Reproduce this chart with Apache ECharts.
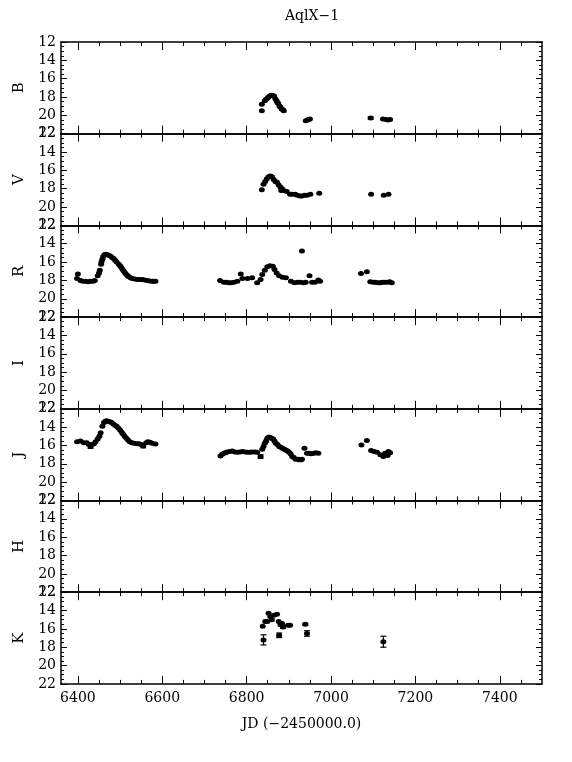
<!DOCTYPE html>
<html><head><meta charset="utf-8">
<script src="https://cdn.jsdelivr.net/npm/echarts@6/dist/echarts.min.js"></script>
<style>html,body{margin:0;padding:0;background:#fff}#c{width:572px;height:762px}</style>
</head><body><div id="c"></div>
<script>
const chartTitle = 'AqlX\u22121';
const xTitle = 'JD (\u22122450000.0)';
const bands = ['B', 'V', 'R', 'I', 'J', 'H', 'K'];
const xMajorTicks = [6400, 6600, 6800, 7000, 7200, 7400];
const xMinorTicks = [6400, 6450, 6500, 6550, 6600, 6650, 6700, 6750, 6800, 6850, 6900, 6950, 7000, 7050, 7100, 7150, 7200, 7250, 7300, 7350, 7400, 7450];
const yTickLabels = [12, 14, 16, 18, 20, 22];

const B_jd  = [6836, 6836, 6843, 6846, 6850, 6852, 6855, 6858, 6862, 6865, 6868, 6871, 6873, 6875, 6878, 6880, 6883, 6886, 6888, 6940, 6944, 6947, 6950, 7094, 7123, 7130, 7135, 7140];
const B_mag = [19.5, 18.8, 18.4, 18.25, 18.1, 18.0, 17.9, 17.8, 17.85, 17.9, 18.2, 18.4, 18.6, 18.7, 19.0, 19.1, 19.3, 19.4, 19.5, 20.6, 20.5, 20.45, 20.4, 20.3, 20.4, 20.45, 20.5, 20.45];
const B_err = [0, 0, 0, 0, 0, 0, 0, 0, 0, 0, 0, 0, 0, 0, 0, 0, 0, 0, 0, 0, 0, 0, 0, 0.12, 0, 0, 0, 0];

const V_jd  = [6836, 6840, 6844, 6848, 6852, 6856, 6860, 6864, 6868, 6872, 6876, 6880, 6882, 6884, 6888, 6895, 6903, 6908, 6915, 6920, 6926, 6931, 6937, 6943, 6951, 6972, 7095, 7125, 7136];
const V_mag = [18.1, 17.5, 17.2, 16.9, 16.7, 16.6, 16.7, 17.0, 17.2, 17.3, 17.6, 17.8, 18.2, 18.0, 18.2, 18.3, 18.6, 18.6, 18.6, 18.7, 18.8, 18.8, 18.7, 18.7, 18.6, 18.5, 18.6, 18.7, 18.6];

const R_jd  = [6398, 6400, 6406, 6412, 6418, 6424, 6430, 6436, 6440, 6447, 6450, 6452, 6455, 6456, 6458, 6460, 6463, 6466, 6470, 6473, 6477, 6481, 6485, 6488, 6492, 6497, 6500, 6503, 6506, 6509, 6512, 6515, 6518, 6521, 6525, 6529, 6535, 6541, 6547, 6553, 6558, 6564, 6570, 6576, 6580, 6584,
               6737, 6746, 6752, 6758, 6764, 6770, 6778, 6786, 6790, 6802, 6813, 6825, 6833, 6837, 6843, 6849, 6855, 6862, 6866, 6871, 6877, 6885, 6893, 6905, 6913, 6920, 6927, 6931, 6935, 6940, 6949, 6955, 6962, 6970, 6974,
               7071, 7085, 7093, 7100, 7105, 7112, 7117, 7122, 7128, 7134, 7139, 7144];
const R_mag = [17.8, 17.3, 18.0, 18.1, 18.1, 18.15, 18.1, 18.1, 18.0, 17.5, 17.2, 16.9, 16.25, 16.0, 15.7, 15.4, 15.2, 15.15, 15.2, 15.25, 15.35, 15.5, 15.6, 15.8, 16.0, 16.25, 16.4, 16.6, 16.8, 17.0, 17.2, 17.35, 17.5, 17.6, 17.7, 17.8, 17.85, 17.9, 17.9, 17.9, 17.95, 18.0, 18.05, 18.1, 18.1, 18.1,
               18.0, 18.2, 18.2, 18.25, 18.25, 18.2, 18.1, 17.3, 17.8, 17.8, 17.7, 18.25, 17.9, 17.35, 16.9, 16.5, 16.4, 16.45, 16.8, 17.2, 17.5, 17.65, 17.7, 18.1, 18.25, 18.2, 18.2, 14.8, 18.25, 18.2, 17.5, 18.2, 18.2, 17.95, 18.1,
               17.25, 17.05, 18.15, 18.2, 18.2, 18.25, 18.25, 18.2, 18.2, 18.2, 18.15, 18.25];

const I_jd  = [];
const I_mag = [];

const J_jd  = [6398, 6406, 6414, 6421, 6426, 6430, 6434, 6438, 6442, 6447, 6451, 6454, 6458, 6462, 6465, 6468, 6472, 6476, 6480, 6484, 6488, 6492, 6496, 6500, 6504, 6507, 6511, 6515, 6519, 6523, 6528, 6533, 6540, 6545, 6550, 6555, 6562, 6566, 6571, 6576, 6584,
               6738, 6742, 6746, 6750, 6754, 6760, 6766, 6772, 6778, 6784, 6790, 6796, 6802, 6808, 6813, 6820, 6825, 6833, 6837, 6840, 6843, 6846, 6849, 6852, 6855, 6859, 6863, 6866, 6869, 6873, 6877, 6881, 6885, 6889, 6893, 6897, 6900, 6904, 6908, 6912, 6916, 6922, 6927, 6931, 6937, 6943, 6948, 6953, 6959, 6964, 6970,
               7072, 7085, 7095, 7102, 7109, 7117, 7124, 7128, 7132, 7134, 7136, 7140];
const J_mag = [15.6, 15.5, 15.7, 15.7, 15.9, 16.1, 15.9, 15.8, 15.6, 15.3, 15.0, 14.6, 13.9, 13.5, 13.35, 13.3, 13.35, 13.4, 13.5, 13.65, 13.8, 13.9, 14.1, 14.3, 14.55, 14.75, 15.0, 15.2, 15.4, 15.6, 15.7, 15.75, 15.8, 15.8, 15.9, 16.05, 15.7, 15.6, 15.65, 15.75, 15.85,
               17.15, 16.95, 16.85, 16.8, 16.7, 16.65, 16.6, 16.7, 16.75, 16.7, 16.65, 16.7, 16.75, 16.75, 16.7, 16.7, 16.75, 17.2, 16.4, 16.1, 15.75, 15.5, 15.2, 15.1, 15.1, 15.2, 15.3, 15.5, 15.75, 15.9, 16.1, 16.2, 16.3, 16.4, 16.5, 16.6, 16.7, 16.9, 17.2, 17.3, 17.5, 17.5, 17.55, 17.5, 16.3, 16.85, 16.85, 16.9, 16.85, 16.8, 16.85,
               15.95, 15.45, 16.55, 16.65, 16.75, 17.0, 17.2, 16.85, 16.9, 17.1, 16.65, 16.8];
const J_err = [0, 0, 0, 0, 0, 0.2, 0, 0, 0, 0, 0, 0, 0, 0, 0, 0, 0, 0, 0, 0, 0, 0, 0, 0, 0, 0, 0, 0, 0, 0, 0, 0, 0, 0, 0, 0.2, 0, 0, 0, 0, 0,
               0, 0, 0, 0, 0, 0, 0, 0, 0, 0, 0, 0, 0, 0, 0, 0, 0, 0.2, 0, 0, 0, 0, 0, 0, 0, 0, 0, 0, 0, 0, 0, 0, 0, 0, 0, 0, 0, 0, 0, 0, 0, 0, 0.2, 0, 0, 0, 0, 0, 0, 0, 0,
               0, 0, 0, 0, 0, 0, 0, 0, 0, 0, 0, 0];

const H_jd  = [];
const H_mag = [];

const K_jd  = [6838, 6840, 6844, 6849, 6852, 6856, 6860, 6865, 6872, 6876, 6877, 6880, 6884, 6886, 6898, 6903, 6939, 6943, 7124];
const K_mag = [15.7, 17.2, 15.2, 15.2, 14.3, 14.65, 15.0, 14.5, 14.4, 15.2, 16.7, 15.55, 15.4, 15.8, 15.6, 15.6, 15.5, 16.5, 17.4];
const K_err = [0, 0.55, 0, 0, 0, 0, 0, 0, 0, 0, 0.25, 0, 0, 0.15, 0, 0, 0.12, 0.3, 0.6];

const bandData = {
  B: [B_jd, B_mag, B_err], V: [V_jd, V_mag, null], R: [R_jd, R_mag, null], I: [I_jd, I_mag, null],
  J: [J_jd, J_mag, J_err], H: [H_jd, H_mag, null], K: [K_jd, K_mag, K_err]
};

const FONT = 'DejaVu Serif';
const PLOT_TOP = 42, PANEL_H = 91.7, LEFT = 61, RIGHT = 30;
const XMIN = 6360, XMAX = 7500;

const grids = [], xAxes = [], yAxes = [], series = [];
const axisLineStyle = { color: '#000', width: 1.5 };
const tickStyle = { color: '#000', width: 1 };

bands.forEach((b, i) => {
  const last = i === bands.length - 1;
  grids.push({ left: LEFT, right: RIGHT, top: PLOT_TOP + i * PANEL_H, height: PANEL_H, containLabel: false, outerBoundsMode: 'none' });
  const baseX = { type: 'value', gridIndex: i, min: XMIN, max: XMAX, splitLine: { show: false } };
  xAxes.push(Object.assign({}, baseX, {
    position: 'bottom',
    axisLine: { show: true, onZero: false, lineStyle: axisLineStyle },
    axisTick: { show: true, inside: true, length: 8, lineStyle: tickStyle, customValues: xMajorTicks },
    axisLabel: { show: last, customValues: xMajorTicks, fontFamily: FONT, fontSize: 14, color: '#000', margin: 7,
      formatter: v => String(v) },
    name: last ? xTitle : '', nameLocation: 'middle', nameGap: 33,
    nameTextStyle: { fontFamily: FONT, fontSize: 14, color: '#000' }
  }));
  xAxes.push(Object.assign({}, baseX, {
    position: 'bottom',
    axisLine: { show: false, onZero: false },
    axisTick: { show: true, inside: true, length: 4, lineStyle: tickStyle, customValues: xMinorTicks },
    axisLabel: { show: false }
  }));
  xAxes.push(Object.assign({}, baseX, {
    position: 'top',
    axisLine: { show: true, onZero: false, lineStyle: axisLineStyle },
    axisTick: { show: true, inside: true, length: 8, lineStyle: tickStyle, customValues: xMajorTicks },
    axisLabel: { show: false }
  }));
  xAxes.push(Object.assign({}, baseX, {
    position: 'top',
    axisLine: { show: false, onZero: false },
    axisTick: { show: true, inside: true, length: 4, lineStyle: tickStyle, customValues: xMinorTicks },
    axisLabel: { show: false }
  }));
  const baseY = {
    type: 'value', gridIndex: i, inverse: true, min: 12, max: 22, interval: 2,
    splitLine: { show: false }, minorSplitLine: { show: false },
    axisLine: { show: true, onZero: false, lineStyle: axisLineStyle },
    axisTick: { show: true, inside: true, length: 6, lineStyle: tickStyle },
    minorTick: { show: true, splitNumber: 4, length: 3, lineStyle: tickStyle }
  };
  yAxes.push(Object.assign({}, baseY, {
    position: 'left',
    axisLabel: { show: true, fontFamily: FONT, fontSize: 14, color: '#000', margin: 5,
      customValues: yTickLabels, formatter: v => String(v) },
    name: b, nameLocation: 'middle', nameGap: 34,
    nameTextStyle: { fontFamily: FONT, fontSize: 15, color: '#000' }
  }));
  yAxes.push(Object.assign({}, baseY, { position: 'right', axisLabel: { show: false } }));

  const [jd, mag, err] = bandData[b];
  series.push({
    type: 'scatter', xAxisIndex: i * 4, yAxisIndex: i * 2,
    data: jd.map((x, k) => [x, mag[k]]),
    symbol: 'circle', symbolSize: [6, 5],
    itemStyle: { color: '#000', opacity: 1 }, silent: true, animation: false
  });
  if (err) {
    const ed = [];
    jd.forEach((x, k) => { if (err[k] > 0) ed.push([x, mag[k] - err[k], mag[k] + err[k]]); });
    series.push({
      type: 'custom', xAxisIndex: i * 4, yAxisIndex: i * 2, data: ed, silent: true, animation: false,
      encode: { x: 0, y: [1, 2] },
      renderItem: (params, api) => {
        const p1 = api.coord([api.value(0), api.value(1)]);
        const p2 = api.coord([api.value(0), api.value(2)]);
        const w = 3;
        const st = { stroke: '#000', lineWidth: 1.2 };
        return { type: 'group', children: [
          { type: 'line', shape: { x1: p1[0], y1: p1[1], x2: p2[0], y2: p2[1] }, style: st },
          { type: 'line', shape: { x1: p1[0] - w, y1: p1[1], x2: p1[0] + w, y2: p1[1] }, style: st },
          { type: 'line', shape: { x1: p2[0] - w, y1: p2[1], x2: p2[0] + w, y2: p2[1] }, style: st }
        ] };
      }
    });
  }
});

const chart = echarts.init(document.getElementById('c'), null, { renderer: 'canvas' });
chart.setOption({
  animation: false,
  backgroundColor: '#fff',
  title: { text: chartTitle, left: 307, top: 4, textAlign: 'center',
    textStyle: { fontFamily: FONT, fontSize: 14, fontWeight: 'normal', color: '#000' } },
  grid: grids, xAxis: xAxes, yAxis: yAxes, series: series
});
</script></body></html>
